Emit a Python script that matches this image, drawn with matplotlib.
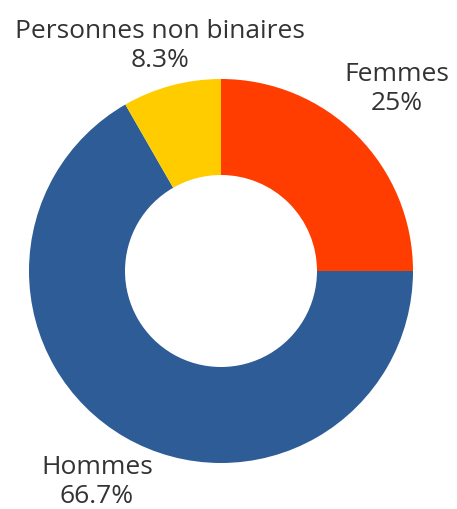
import matplotlib.pyplot as plt

labels = ["Femmes", "Hommes", "Personnes non binaires"]
shares = [25, 66.7, 8.3]
share_text = ["25%", "66.7%", "8.3%"]
colors = ["#ff3d00", "#2e5c96", "#ffcc00"]

plt.rcParams['font.family'] = ['Open Sans', 'DejaVu Sans']

fig = plt.figure(figsize=(4.57, 5.09), dpi=100)
ax = fig.add_axes([0, 0, 1, 1])
ax.set_xlim(0, 457)
ax.set_ylim(0, 509)
ax.set_aspect('equal')
ax.axis('off')

ax.pie(shares, colors=colors, startangle=90, counterclock=False,
       center=(221, 509 - 271), radius=192,
       wedgeprops=dict(width=96, linewidth=0))
ax.set_xlim(0, 457)
ax.set_ylim(0, 509)

# label positions in pixels (x, y from top)
pos = [(397, 89), (97, 482), (160, 46)]
for lab, txt, (x, y) in zip(labels, share_text, pos):
    ax.text(x, 509 - y, lab + "\n" + txt, ha='center', va='center',
            fontsize=19, color='#333333', linespacing=1.2)

fig.savefig("out.png", dpi=100)
